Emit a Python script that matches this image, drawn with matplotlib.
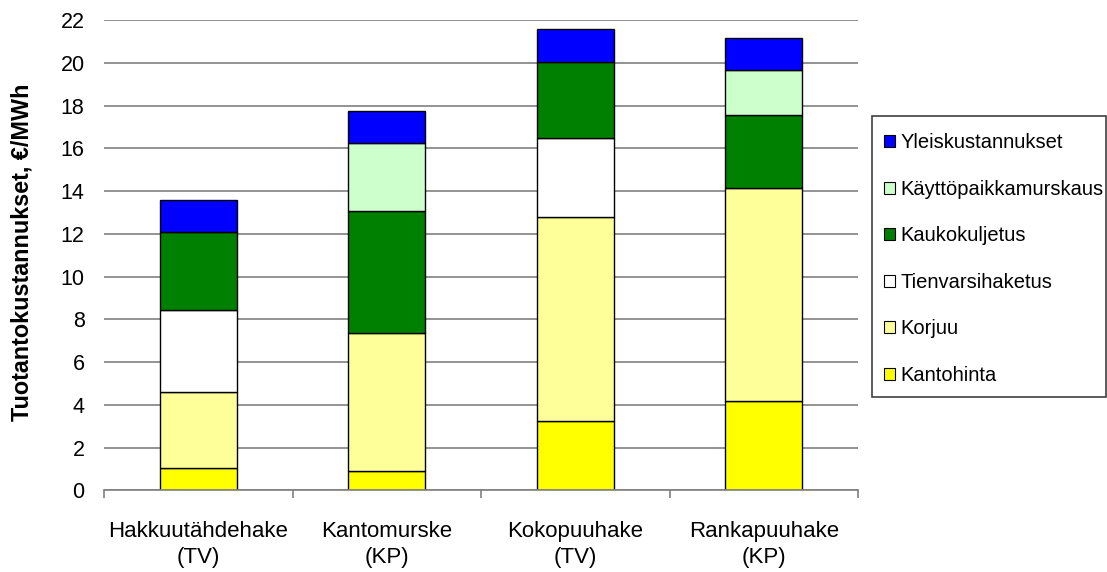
import matplotlib
matplotlib.use("Agg")
import matplotlib.pyplot as plt
from matplotlib.patches import Rectangle, Patch
import numpy as np

plt.rcParams['font.family'] = ['Liberation Sans', 'DejaVu Sans']

categories = ["Hakkuutähdehake\n(TV)", "Kantomurske\n(KP)", "Kokopuuhake\n(TV)", "Rankapuuhake\n(KP)"]
series_names = ["Kantohinta", "Korjuu", "Tienvarsihaketus", "Kaukokuljetus",
                "Käyttöpaikkamurskaus", "Yleiskustannukset"]
kantohinta = [1.06, 0.90, 3.26, 4.18]
korjuu = [3.52, 6.44, 9.51, 9.96]
tienvarsihaketus = [3.87, 0.0, 3.71, 0.0]
kaukokuljetus = [3.62, 5.74, 3.57, 3.43]
kayttopaikkamurskaus = [0.0, 3.15, 0.0, 2.07]
yleiskustannukset = [1.52, 1.53, 1.53, 1.53]
series_values = [kantohinta, korjuu, tienvarsihaketus, kaukokuljetus,
                 kayttopaikkamurskaus, yleiskustannukset]
colors = ["#FFFF00", "#FFFF99", "#FFFFFF", "#008000", "#CCFFCC", "#0000FF"]
yticks = list(range(0, 23, 2))

W, H = 1107, 572
fig = plt.figure(figsize=(W / 100, H / 100), dpi=100)
ax = fig.add_axes([104 / W, 1 - 490.3 / H, (858 - 104) / W, (490.3 - 20) / H])

x = np.arange(len(categories))
bottom = np.zeros(len(categories))
handles = []
for name, vals, col in zip(series_names, series_values, colors):
    vals = np.array(vals)
    mask = vals > 0
    ax.bar(x[mask], vals[mask], width=0.41, bottom=bottom[mask], color=col,
           edgecolor="black", linewidth=1.0, zorder=3)
    bottom += vals
    handles.append(Patch(facecolor=col, edgecolor="black", linewidth=0.8, label=name))

ax.set_xlim(-0.5, len(categories) - 0.5)
ax.set_ylim(0, 22)
ax.set_yticks(yticks)
ax.set_yticklabels([str(t) for t in yticks])
ax.yaxis.grid(True, color="#808080", linewidth=1.2, zorder=0)
ax.set_axisbelow(True)

for s in ["left", "right", "top"]:
    ax.spines[s].set_visible(False)
ax.spines["bottom"].set_color("#808080")
ax.spines["bottom"].set_linewidth(1.2)
ax.spines["bottom"].set_zorder(4)

ax.set_xticks(x)
ax.set_xticklabels(categories, fontsize=16, linespacing=1.35)
ax.set_xticks(np.arange(-0.5, len(categories), 1.0), minor=True)
ax.tick_params(axis="x", which="major", length=0, pad=22)
ax.tick_params(axis="x", which="minor", length=6, width=1.2, color="#808080", direction="out")
ax.tick_params(axis="y", length=0, pad=14, labelsize=15.5)

fig.text(22 / W, 1 - 252 / H, "Tuotantokustannukset, €/MWh", rotation=90,
         fontsize=16.8, fontweight="bold", ha="center", va="center")

# legend frame drawn separately so the box spans to the right edge
fig.patches.append(Rectangle((872 / W, 1 - 396.7 / H), (1105.5 - 872) / W, (396.7 - 115.7) / H,
                             transform=fig.transFigure, fill=False, edgecolor="#404040",
                             linewidth=1.2))
leg = fig.legend(handles[::-1], series_names[::-1], loc="upper left",
                 bbox_to_anchor=(868 / W, 1 - 117 / H), frameon=False, fontsize=14.5,
                 handlelength=0.55, handleheight=0.55, handletextpad=0.25,
                 labelspacing=1.37, borderpad=0.3)

fig.savefig("out.png", dpi=100)
